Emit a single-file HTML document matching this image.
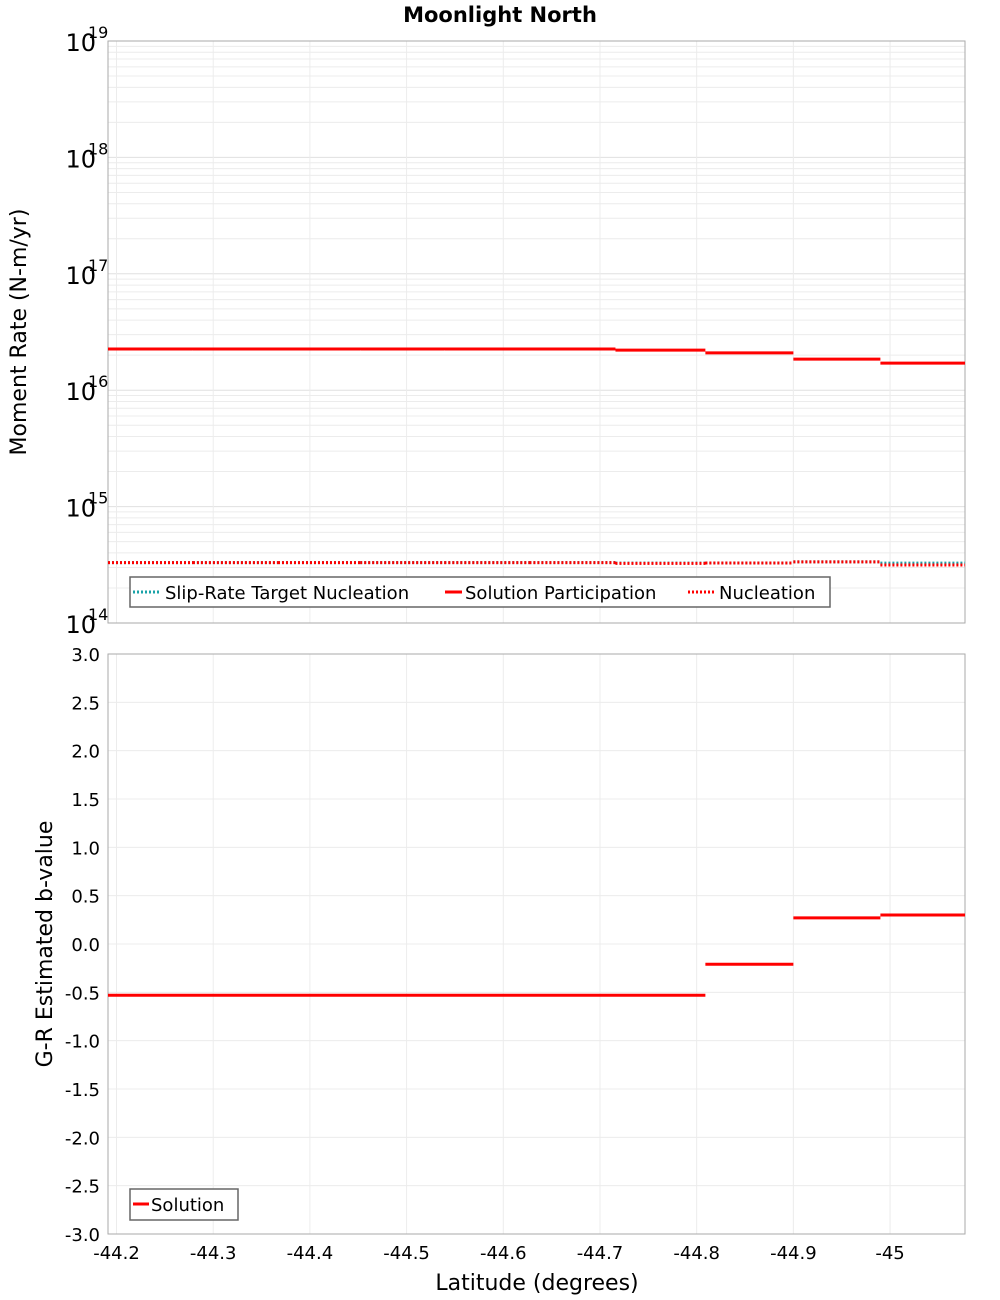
<!DOCTYPE html>
<html><head><meta charset="utf-8"><style>
body{margin:0;background:#fff;}
svg{display:block;font-family:"DejaVu Sans","Liberation Sans",sans-serif;}
</style></head><body>
<svg id="c" width="1000" height="1300"></svg>
<script>
const edges=[-44.1912,-44.279,-44.367,-44.452,-44.539,-44.627,-44.716,-44.809,-44.900,-44.990,-45.0775];
const participation=[2.26e16,2.26e16,2.26e16,2.26e16,2.26e16,2.26e16,2.21e16,2.09e16,1.85e16,1.71e16];
const nucleation=[3.3e14,3.3e14,3.3e14,3.3e14,3.3e14,3.3e14,3.25e14,3.28e14,3.35e14,3.15e14];
const targetNucleation=[3.3e14,3.3e14,3.3e14,3.3e14,3.3e14,3.3e14,3.27e14,3.28e14,3.35e14,3.27e14];
const bValue=[-0.53,-0.53,-0.53,-0.53,-0.53,-0.53,-0.53,-0.21,0.27,0.30];
const xTicks=[-44.2,-44.3,-44.4,-44.5,-44.6,-44.7,-44.8,-44.9,-45];
const xTickLabels=["-44.2","-44.3","-44.4","-44.5","-44.6","-44.7","-44.8","-44.9","-45"];
const logTicks=[14,15,16,17,18,19];
const bTicks=[3,2.5,2,1.5,1,0.5,0,-0.5,-1,-1.5,-2,-2.5,-3];

const svg=document.getElementById('c');
const NS='http://www.w3.org/2000/svg';
function mk(t,a,txt){const e=document.createElementNS(NS,t);for(const k in a)e.setAttribute(k,a[k]);if(txt!==undefined)e.textContent=txt;svg.appendChild(e);return e;}
const L=108,R=965,T1=41,B1=623,T2=654,B2=1234;
const xs=v=>L+(v-edges[0])/(edges[edges.length-1]-edges[0])*(R-L);
const y1=v=>B1-(Math.log10(v)-14)/5*(B1-T1);
const y2=v=>B2-(v+3)/6*(B2-T2);

mk('text',{x:500,y:22,'text-anchor':'middle','font-size':21,'font-weight':'bold',},'Moonlight North');

for(let d=14;d<19;d++)for(let m=2;m<=9;m++){const y=y1(m*Math.pow(10,d));
 const g=mk('line',{x1:L,x2:R,y1:y,y2:y,stroke:'#ececec'});
 }
logTicks.forEach(d=>{const y=y1(Math.pow(10,d));
 const g=mk('line',{x1:L,x2:R,y1:y,y2:y,stroke:'#e0e0e0'});
 
 const t=mk('text',{x:96,y:y+10,'text-anchor':'end','font-size':24});
 
 t.textContent='10';
 const s=mk('text',{x:88,y:y-3,'font-size':16},String(d));
 });
bTicks.forEach(v=>{const y=y2(v);
 const g=mk('line',{x1:L,x2:R,y1:y,y2:y,stroke:'#ececec'});
 
 const t=mk('text',{x:100,y:y+7,'text-anchor':'end','font-size':18},v.toFixed(1));
 });
xTicks.forEach((v,i)=>{const x=xs(v);
 [[T1,B1],[T2,B2]].forEach(p=>{const g=mk('line',{x1:x,x2:x,y1:p[0],y2:p[1],stroke:'#ececec'});
  });
 const t=mk('text',{x:x,y:1259,'text-anchor':'middle','font-size':18},xTickLabels[i]);
 });

mk('rect',{x:L,y:T1,width:R-L,height:B1-T1,fill:'none',stroke:'#aaa',});
mk('rect',{x:L,y:T2,width:R-L,height:B2-T2,fill:'none',stroke:'#aaa',});

function steps(vals,yf,attrs,name){let d='';
 vals.forEach((v,i)=>{const xa=xs(edges[i]),xb=xs(edges[i+1]),y=yf(v);d+='M'+xa+' '+y+'H'+xb;});
 const p=mk('path',Object.assign({d:d,fill:'none'},attrs));
 }
steps(targetNucleation,y1,{stroke:'#1aa3a8','stroke-width':3,'stroke-dasharray':'2,2'},'slip-rate-target-nucleation-line');
steps(nucleation,y1,{stroke:'#f00','stroke-width':3,'stroke-dasharray':'2,2'},'nucleation-line');
steps(participation,y1,{stroke:'#f00','stroke-width':3},'solution-participation-line');
steps(bValue,y2,{stroke:'#f00','stroke-width':3},'solution-b-value-line');

mk('rect',{x:130,y:577,width:700,height:30,fill:'#fff',stroke:'#666','stroke-width':1.5,});
mk('line',{x1:133,x2:161,y1:592,y2:592,stroke:'#1aa3a8','stroke-width':3,'stroke-dasharray':'2,2',});
mk('text',{x:165,y:599,'font-size':18,},'Slip-Rate Target Nucleation');
mk('line',{x1:445,x2:462,y1:592,y2:592,stroke:'#f00','stroke-width':3,});
mk('text',{x:465,y:599,'font-size':18,},'Solution Participation');
mk('line',{x1:688,x2:716,y1:592,y2:592,stroke:'#f00','stroke-width':3,'stroke-dasharray':'2,2',});
mk('text',{x:719,y:599,'font-size':18,},'Nucleation');
mk('rect',{x:130,y:1189,width:108,height:31,fill:'#fff',stroke:'#666','stroke-width':1.5,});
mk('line',{x1:133,x2:149,y1:1204,y2:1204,stroke:'#f00','stroke-width':3,});
mk('text',{x:151,y:1211,'font-size':18,},'Solution');

mk('text',{x:26,y:332,'text-anchor':'middle','font-size':22,transform:'rotate(-90 26 332)',},'Moment Rate (N-m/yr)');
mk('text',{x:52,y:944,'text-anchor':'middle','font-size':22,transform:'rotate(-90 52 944)',},'G-R Estimated b-value');
mk('text',{x:537,y:1290,'text-anchor':'middle','font-size':22,},'Latitude (degrees)');
</script>
</body></html>
